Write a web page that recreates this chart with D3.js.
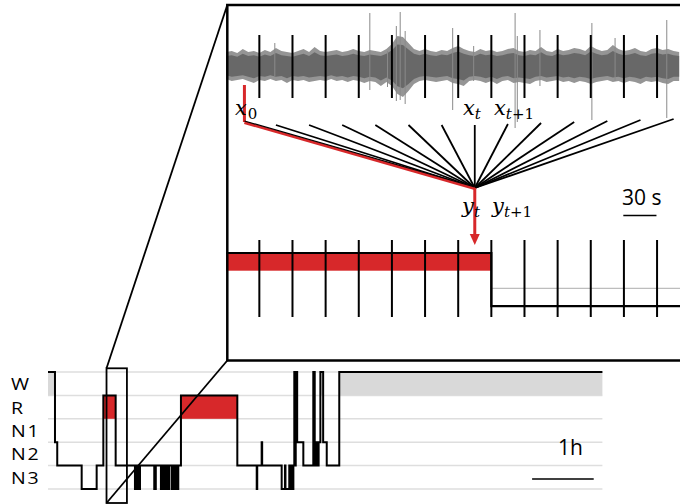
<!DOCTYPE html>
<html>
<head>
<meta charset="utf-8">
<script src="https://cdn.jsdelivr.net/npm/d3@7"></script>
<style>
  body { margin: 0; background: #fff; }
  svg { display: block; }
  text { font-family: "Open Sans", sans-serif; fill: #000; }
  .math { font-family: "DejaVu Serif", serif; font-style: italic; }
</style>
</head>
<body>
<svg id="chart" width="680" height="504"></svg>
<script>
// ---- data ----
const stageLabels = ['W', 'R', 'N1', 'N2', 'N3'];

// hypnogram change points (minutes from lights off) and drawn level (0 = W line ... 5 = lowest)
const hypnoMinutes = [0, 6.8, 9, 32.8, 47.4, 53.9, 65.9,
  84.7, 86, 86.5, 88, 88.5, 89.6,
  103.5, 105,
  110, 111.5, 112, 113.5, 114, 114.6,
  115.6, 116.6, 117, 118,
  120.5, 121.5, 122, 123,
  124.4, 125.4, 126, 126.9,
  129.5, 184.4,
  203.3, 203.8, 208.1, 208.6,
  227.6, 230.8, 231.3, 235, 236, 237, 238, 239,
  239.9, 240.8, 241.3, 242.7, 248.7,
  258.4, 259.8, 260.3, 261.3, 262, 263, 263.6,
  265.3, 268, 271.5, 283.7];
const hypnoLevels = [0, 3, 4, 5, 4, 1, 4,
  5, 4, 5, 4, 5, 4,
  5, 4,
  5, 4, 5, 4, 5, 4,
  5, 4, 5, 4,
  5, 4, 5, 4,
  5, 4, 5, 4,
  1, 4,
  5, 4, 3, 4,
  5, 4, 5, 4, 5, 4, 5, 4,
  0, 4, 0, 3, 4,
  0, 4, 3, 4, 3, 4, 3,
  0, 3, 4, 0];
const nightLength = 540; // minutes

// zoomed epochs (30 s each): drawn level per epoch
const zoomEpochLevels = [1, 1, 1, 1, 1, 1, 1, 1, 4, 4, 4, 4, 4, 4];

// EEG envelope, every 5 s, in µV above / below baseline
const eegTop = [28, 30, 26, 34, 28, 30, 26, 32, 28, 36,
  30, 28, 26, 30, 34, 28, 38, 30, 28, 30,
  32, 28, 30, 34, 30, 28, 32, 30, 28, 34,
  44, 60, 58, 46, 34, 30, 34, 30, 28, 32,
  30, 36, 40, 34, 30, 28, 34, 30, 32, 28,
  30, 34, 36, 30, 28, 32, 30, 38, 30, 28,
  34, 30, 32, 36, 34, 30, 40, 34, 30, 32,
  42, 34, 30, 32, 36, 30, 28, 34, 36, 32,
  34, 30, 28];
const eegBottom = [26, 30, 28, 26, 30, 34, 28, 30, 26, 30,
  28, 34, 28, 30, 28, 32, 30, 28, 30, 26,
  30, 28, 32, 28, 30, 34, 30, 32, 40, 32,
  40, 56, 62, 50, 36, 30, 28, 30, 32, 30,
  28, 34, 36, 40, 30, 28, 30, 34, 30, 36,
  30, 28, 34, 32, 34, 36, 30, 28, 32, 30,
  28, 32, 30, 34, 30, 32, 36, 32, 30, 28,
  32, 30, 34, 30, 32, 36, 30, 32, 30, 34,
  36, 30, 30];
// isolated EEG spikes: [seconds, up µV, down µV]
const eegSpikes = [[44, 46, 20], [130, 106, 48], [146, 30, 42], [154, 80, 70], [157.5, 108, 68],
  [162, 70, 76], [205, 76, 88], [224, 40, 30], [261.5, 106, 124], [263.5, 60, 112], [284, 72, 40],
  [331, 86, 108], [352, 56, 30], [398.8, 92, 104]];

const inputEpoch = 0;   // x_0
const targetEpoch = 7;  // x_t / y_t

// ---- setup ----
const svg = d3.select('#chart');
const red = '#d7282a';

// hypnogram scales
const hx = d3.scaleLinear().domain([0, nightLength]).range([48, 602.4]);
const hy = d3.scaleLinear().domain([0, 5]).range([372, 489]);

// zoom panel scales
const ex = d3.scaleLinear().domain([0, 14]).range([226.2, 690.2]);       // epochs
const tx = d3.scaleLinear().domain([0, 420]).range([226.2, 690.2]);      // seconds
const ey = d3.scaleLinear().domain([-100, 100]).range([116, 16]);        // µV
const zy = d3.scaleLinear().domain([0, 4]).range([235.3, 306.1]);        // zoom levels

const hypno = hypnoMinutes.map((m, i) => ({ start: m, end: i < hypnoMinutes.length - 1 ? hypnoMinutes[i + 1] : nightLength, level: hypnoLevels[i] }));

// ---- hypnogram ----
const hg = svg.append('g');

hg.selectAll('.grid')
  .data(d3.range(0, 6))
  .join('line')
  .attr('x1', hx(0)).attr('x2', hx(nightLength))
  .attr('y1', d => hy(d)).attr('y2', d => hy(d))
  .attr('stroke', '#dedede').attr('stroke-width', 1.5);

// W and R bands
hg.selectAll('.band')
  .data(hypno.filter(d => d.level <= 1))
  .join('rect')
  .attr('x', d => hx(d.start))
  .attr('width', d => hx(d.end) - hx(d.start))
  .attr('y', d => hy(d.level))
  .attr('height', d => hy(d.level + 1) - hy(d.level))
  .attr('fill', d => d.level === 0 ? '#d9d9d9' : red);

const hypnoPts = hypno.map(d => [d.start, d.level]).concat([[nightLength, hypno[hypno.length - 1].level]]);
hg.append('path')
  .attr('d', d3.line().x(d => hx(d[0])).y(d => hy(d[1])).curve(d3.curveStepAfter)(hypnoPts))
  .attr('fill', 'none').attr('stroke', '#000').attr('stroke-width', 2);

// stage names, a little stretched like the original lettering
hg.selectAll('.stage')
  .data(stageLabels)
  .join('text')
  .attr('transform', (d, i) => `translate(11,${(hy(i) + hy(i + 1)) / 2 + 6.5}) scale(1.15,1)`)
  .attr('font-size', 17)
  .attr('letter-spacing', 1.5)
  .text(d => d);

// 1 h scale bar
hg.append('line')
  .attr('x1', hx(480) - 8.7).attr('x2', hx(540) - 8.7)
  .attr('y1', 479).attr('y2', 479)
  .attr('stroke', '#000').attr('stroke-width', 1.5);
hg.append('text').attr('x', 558).attr('y', 455).attr('font-size', 21).text('1h');

// ---- zoom panel ----
const zg = svg.append('g');

// EEG trace envelope
const eegData = eegTop.map((v, i) => ({ t: i * 5, top: v, bottom: eegBottom[i] }));
zg.append('path')
  .attr('d', d3.area().x(d => tx(d.t)).y0(d => ey(-d.bottom)).y1(d => ey(d.top))(eegData))
  .attr('fill', '#959595');
zg.append('path')
  .attr('d', d3.area().x(d => tx(d.t)).y0(d => ey(-d.bottom * 0.72)).y1(d => ey(d.top * 0.72))(eegData))
  .attr('fill', '#686868');
zg.selectAll('.spike')
  .data(eegSpikes)
  .join('line')
  .attr('x1', d => tx(d[0])).attr('x2', d => tx(d[0]))
  .attr('y1', d => ey(d[1])).attr('y2', d => ey(-d[2]))
  .attr('stroke', '#8a8a8a').attr('stroke-width', 1);

// epoch boundaries on the EEG
zg.selectAll('.eegTick')
  .data(d3.range(1, 14))
  .join('line')
  .attr('x1', d => ex(d)).attr('x2', d => ex(d))
  .attr('y1', 35).attr('y2', 98)
  .attr('stroke', '#000').attr('stroke-width', 2);

// epoch inputs converging to y_t
const conv = [ex(targetEpoch + 0.5), 188];
zg.selectAll('.conv')
  .data(d3.range(1, 14))
  .join('line')
  .attr('x1', d => ex(d + 0.5)).attr('y1', d => d <= targetEpoch ? 125 : 125 - (d - targetEpoch))
  .attr('x2', conv[0]).attr('y2', conv[1])
  .attr('stroke', '#000').attr('stroke-width', 1.8);

// x_0 path in red
const x0 = ex(inputEpoch + 0.55);
zg.append('line')
  .attr('x1', x0).attr('x2', x0).attr('y1', 85).attr('y2', 122)
  .attr('stroke', red).attr('stroke-width', 3);
zg.append('line')
  .attr('x1', x0).attr('y1', 122.5).attr('x2', conv[0]).attr('y2', conv[1] + 0.5)
  .attr('stroke', red).attr('stroke-width', 3);
zg.append('line')
  .attr('x1', x0).attr('y1', 121).attr('x2', conv[0]).attr('y2', conv[1] - 1)
  .attr('stroke', '#000').attr('stroke-width', 1.2);

// arrow to y_t
zg.append('line')
  .attr('x1', conv[0]).attr('x2', conv[0]).attr('y1', conv[1]).attr('y2', 236)
  .attr('stroke', red).attr('stroke-width', 3);
zg.append('path')
  .attr('d', `M${conv[0] - 5},234 L${conv[0] + 5},234 L${conv[0]},245 Z`)
  .attr('fill', red);

// zoomed hypnogram
const zoomData = zoomEpochLevels.map((l, i) => ({ epoch: i, level: l }));
zg.append('line')
  .attr('x1', ex(8)).attr('x2', 690)
  .attr('y1', zy(3)).attr('y2', zy(3))
  .attr('stroke', '#bdbdbd').attr('stroke-width', 1.2);
zg.selectAll('.zband')
  .data(zoomData.filter(d => d.level === 1))
  .join('rect')
  .attr('x', d => ex(d.epoch)).attr('width', d => ex(d.epoch + 1) - ex(d.epoch))
  .attr('y', d => zy(d.level)).attr('height', d => zy(d.level + 1) - zy(d.level))
  .attr('fill', red);
const zoomPts = zoomData.map(d => [d.epoch, d.level]).concat([[14, zoomEpochLevels[13]]]);
zg.append('path')
  .attr('d', d3.line().x(d => ex(d[0])).y(d => zy(d[1])).curve(d3.curveStepAfter)(zoomPts))
  .attr('fill', 'none').attr('stroke', '#000').attr('stroke-width', 2.2);
zg.selectAll('.zTick')
  .data(d3.range(1, 14))
  .join('line')
  .attr('x1', d => ex(d)).attr('x2', d => ex(d))
  .attr('y1', 240).attr('y2', 317)
  .attr('stroke', '#000').attr('stroke-width', 2);

// 30 s scale bar
zg.append('line')
  .attr('x1', tx(360) - 0.6).attr('x2', tx(390) - 0.6)
  .attr('y1', 215.5).attr('y2', 215.5)
  .attr('stroke', '#000').attr('stroke-width', 1.5);
zg.append('text').attr('x', 622).attr('y', 205).attr('font-size', 21).text('30 s');

// math labels
const mathLabel = (x, y, base, sub) => {
  const t = zg.append('text').attr('class', 'math').attr('x', x).attr('y', y).attr('font-size', 21);
  t.append('tspan').text(base);
  t.append('tspan').attr('dy', 4).attr('font-size', 15).text(sub[0]);
  if (sub.length > 1) t.append('tspan').attr('font-style', 'normal').attr('font-size', 15).text(sub.slice(1));
};
zg.append('text').attr('class', 'math').attr('x', 235).attr('y', 115).attr('font-size', 21)
  .call(t => {
    t.append('tspan').text('x');
    t.append('tspan').attr('dx', 1).attr('dy', 4).attr('font-size', 15).attr('font-style', 'normal').text('0');
  });
mathLabel(463, 115, 'x', 't');
mathLabel(494, 115, 'x', 't+1');
mathLabel(462, 213, 'y', 't');
mathLabel(492, 213, 'y', 't+1');

// ---- zoom frame and connectors ----
svg.append('rect')
  .attr('x', 227.3).attr('y', 5).attr('width', 500).attr('height', 355.5)
  .attr('fill', 'none').attr('stroke', '#000').attr('stroke-width', 2.5);
svg.append('rect')
  .attr('x', hx(57)).attr('y', 368.3).attr('width', 20.4).attr('height', 134.7)
  .attr('fill', 'none').attr('stroke', '#000').attr('stroke-width', 1.8);
svg.append('line')
  .attr('x1', hx(57)).attr('y1', 368.3).attr('x2', 227.3).attr('y2', 5)
  .attr('stroke', '#000').attr('stroke-width', 1.8);
svg.append('line')
  .attr('x1', hx(57)).attr('y1', 503).attr('x2', 227.3).attr('y2', 360.5)
  .attr('stroke', '#000').attr('stroke-width', 1.8);
</script>
</body>
</html>
